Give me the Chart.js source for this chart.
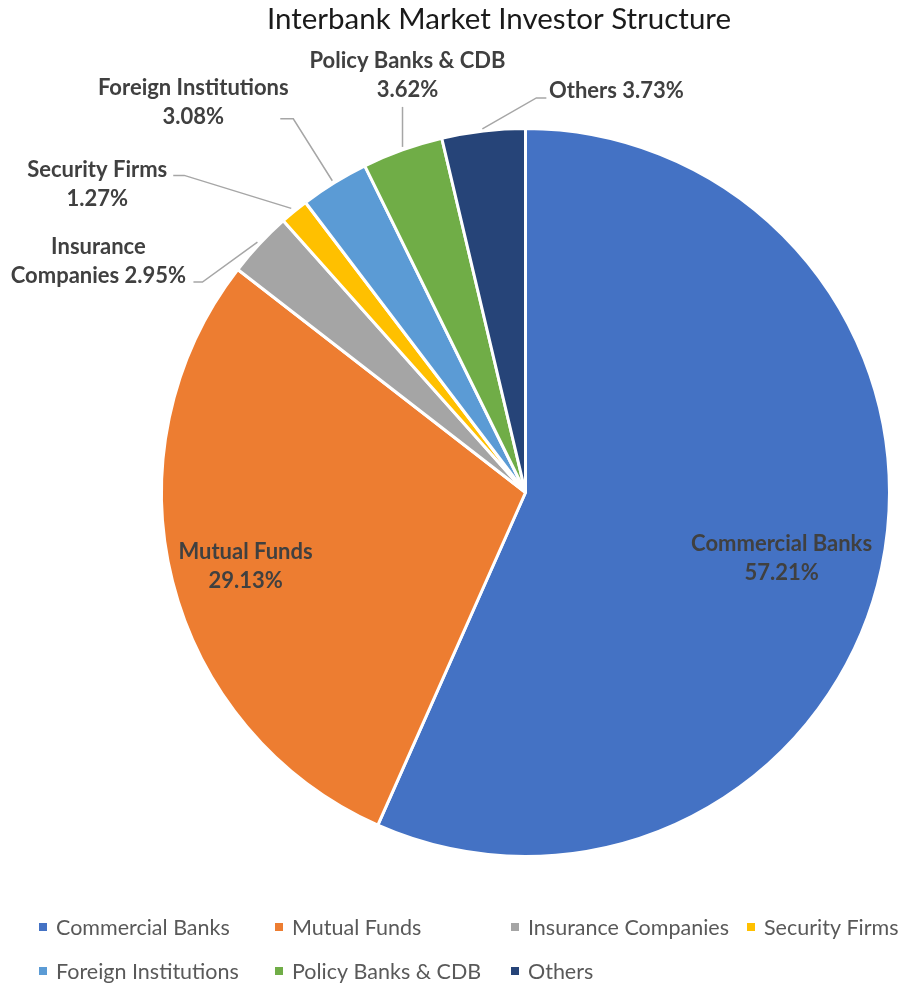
<!DOCTYPE html>
<html>
<head>
<meta charset="utf-8">
<script src="https://cdn.jsdelivr.net/npm/chart.js@4/dist/chart.umd.min.js"></script>
<style>
  html, body { margin: 0; padding: 0; background: #fff; }
  #wrap { width: 901px; height: 988px; }
</style>
</head>
<body>
<div id="wrap"><canvas id="investorChart" width="901" height="988"></canvas></div>
<script>
const categories = ["Commercial Banks", "Mutual Funds", "Insurance Companies", "Security Firms",
                    "Foreign Institutions", "Policy Banks & CDB", "Others"];
const shares = [57.21, 29.13, 2.95, 1.27, 3.08, 3.62, 3.73];
const sliceColors = ["#4472C4", "#ED7D31", "#A5A5A5", "#FFC000", "#5B9BD5", "#70AD47", "#264478"];
// how each data label is split into lines (text comes from categories + shares)
const labelLines = [
    [0, 1], [0, 1], ["Insurance", "Companies {v}"], [0, 1], [0, 1], [0, 1], ["{c} {v}"]
];

// label offsets, measured from the slice's outer edge at its middle angle
const labelPlace = [
    { dx: -100, dy: -10 },
    { dx: 73, dy: -15 },
    { dx: -161, dy: 17, line: [[-2, -2], [-57, 38], [-66, 38]] },
    { dx: -197, dy: -27, line: [[-3, -3], [-110, -36], [-121, -36]] },
    { dx: -141, dy: -80, line: [[-2, -2], [-41, -64], [-54, -64]] },
    { dx: 5, dy: -75, line: [[0, -3], [0, -43]] },
    { dx: 133, dy: -40, line: [[-1, -2], [53, -33], [63, -33]] }
];

const fontFamily = "Lato, 'Open Sans', sans-serif";

function labelText(i) {
    const v = shares[i].toFixed(2) + "%";
    return labelLines[i].map(function (p) {
        if (p === 0) return categories[i];
        if (p === 1) return v;
        return p.replace("{c}", categories[i]).replace("{v}", v);
    });
}

const pieDecor = {
    id: "pieDecor",
    afterDatasetsDraw(chart) {
        const ctx = chart.ctx;
        const arcs = chart.getDatasetMeta(0).data;
        ctx.save();
        arcs.forEach(function (arc, i) {
            const p = arc.getProps(["x", "y", "startAngle", "endAngle", "outerRadius"], true);
            const mid = (p.startAngle + p.endAngle) / 2;
            const ex = p.x + Math.cos(mid) * p.outerRadius;
            const ey = p.y + Math.sin(mid) * p.outerRadius;
            const place = labelPlace[i];
            if (place.line) {
                ctx.strokeStyle = "#A6A6A6";
                ctx.lineWidth = 1.5;
                ctx.beginPath();
                place.line.forEach(function (pt, k) {
                    if (k === 0) ctx.moveTo(ex + pt[0], ey + pt[1]);
                    else ctx.lineTo(ex + pt[0], ey + pt[1]);
                });
                ctx.stroke();
            }
            const lines = labelText(i);
            const lh = 29;
            ctx.fillStyle = "#404040";
            ctx.font = "bold 22px " + fontFamily;
            ctx.textAlign = "center";
            ctx.textBaseline = "middle";
            const cx = ex + place.dx;
            const cy = ey + place.dy - (lines.length - 1) * lh / 2;
            lines.forEach(function (t, k) {
                ctx.fillText(t, cx, cy + k * lh);
            });
        });

        // title
        ctx.fillStyle = "#1a1a1a";
        ctx.font = "29.5px " + fontFamily;
        ctx.textAlign = "center";
        ctx.textBaseline = "middle";
        ctx.fillText("Interbank Market Investor Structure", 499, 19);

        // legend, laid out in four columns
        ctx.font = "21.5px " + fontFamily;
        ctx.textAlign = "left";
        categories.forEach(function (name, i) {
            const col = i % 4, row = Math.floor(i / 4);
            const x = 39 + col * 236;
            const y = 927 + row * 44;
            ctx.fillStyle = sliceColors[i];
            ctx.fillRect(x, y - 4, 8, 8);
            ctx.fillStyle = "#595959";
            ctx.fillText(name, x + 17, y + 1);
        });
        ctx.restore();
    }
};

document.addEventListener("DOMContentLoaded", function () {
    const ctx = document.getElementById("investorChart").getContext("2d");
    new Chart(ctx, {
        type: "pie",
        data: {
            labels: categories,
            datasets: [{
                data: shares,
                backgroundColor: sliceColors,
                borderColor: "#ffffff",
                borderWidth: 3,
                hoverOffset: 0
            }]
        },
        options: {
            responsive: false,
            animation: false,
            layout: { padding: { left: 160, right: 10, top: 127, bottom: 130 } },
            plugins: {
                legend: { display: false },
                tooltip: { enabled: false },
                title: { display: false }
            }
        },
        plugins: [pieDecor]
    });
});
</script>
</body>
</html>
